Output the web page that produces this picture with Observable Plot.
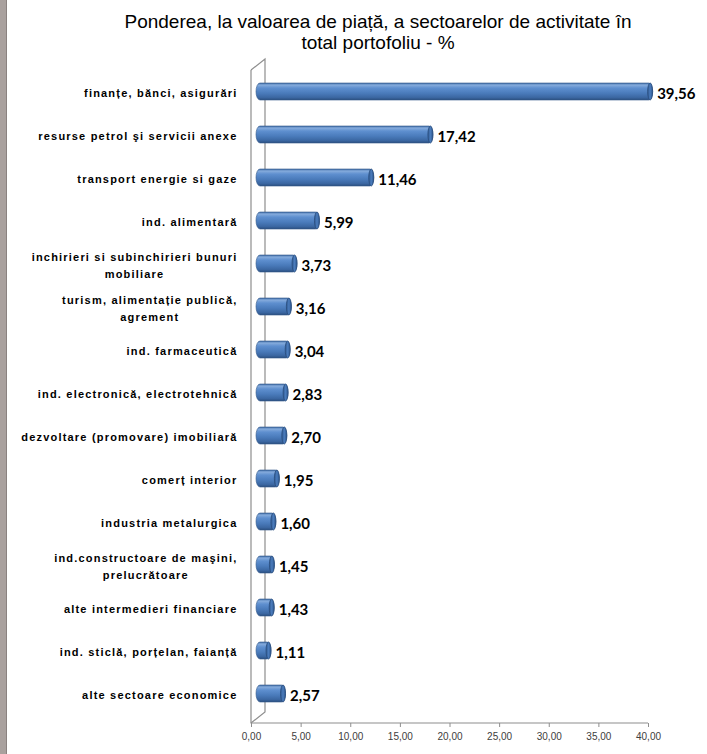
<!DOCTYPE html>
<html><head><meta charset="utf-8">
<script src="https://cdn.jsdelivr.net/npm/d3@7"></script>
<script src="https://cdn.jsdelivr.net/npm/@observablehq/plot@0.6"></script>
<style>
html,body{margin:0;padding:0;background:#fff;}
#page{position:relative;width:707px;height:754px;overflow:hidden;background:#fff;}
#strip{position:absolute;left:0;top:0;width:6px;height:754px;background:#a9a19e;border-right:1px solid #8a8280;}
#title{position:absolute;left:0;top:0;width:707px;height:54px;box-sizing:border-box;padding-top:11px;padding-left:49px;text-align:center;font:19px "Liberation Sans",Arial,sans-serif;line-height:21px;color:#000;}
#chart{position:absolute;left:8px;top:54px;}
</style>
</head><body>
<div id="page">
  <div id="strip"></div>
  <div id="title">Ponderea, la valoarea de piață, a sectoarelor de activitate în<br>total portofoliu - %</div>
  <div id="chart"></div>
</div>
<script>
const categories = [
  "finanțe, bănci, asigurări",
  "resurse petrol şi servicii anexe",
  "transport energie si gaze",
  "ind. alimentară",
  "inchirieri si subinchirieri bunuri\nmobiliare",
  "turism, alimentație publică,\nagrement",
  "ind. farmaceutică",
  "ind. electronică, electrotehnică",
  "dezvoltare (promovare) imobiliară",
  "comerț interior",
  "industria metalurgica",
  "ind.constructoare de maşini,\nprelucrătoare",
  "alte intermedieri financiare",
  "ind. sticlă, porțelan, faianță",
  "alte sectoare economice"
];
const values = [39.56, 17.42, 11.46, 5.99, 3.73, 3.16, 3.04, 2.83, 2.70, 1.95, 1.60, 1.45, 1.43, 1.11, 2.57];
const xTicks = [0, 5, 10, 15, 20, 25, 30, 35, 40];

const data = categories.map((c, i) => ({cat: c, v: values[i]}));
const fmt = d => d.toFixed(2).replace(".", ",");

function wall() {
  const args = [...arguments];
  const sc = args.find(a => a && typeof a.x === "function");
  const dims = args.find(a => a && a.marginTop !== undefined && a.width !== undefined);
  const x0 = sc.x(0), x40 = sc.x(40);
  const top = dims.marginTop, bottom = dims.height - dims.marginBottom;
  const g = d3.create("svg:g").attr("fill", "none").attr("stroke", "#8e8e8e").attr("stroke-width", 1.2);
  g.append("path").attr("d", `M${x0},${top + 8}L${x0},${bottom}L${x40},${bottom}`);
  g.append("path").attr("d", `M${x0},${top + 8}L${x0 + 14},${top - 3}L${x0 + 14},${bottom - 11}L${x0},${bottom}`);
  return g.node();
}

const chart = Plot.plot({
  width: 699,
  height: 700,
  marginLeft: 243,
  marginRight: 59,
  marginTop: 8,
  marginBottom: 31,
  style: {background: "#fff", overflow: "visible"},
  x: {domain: [0, 40]},
  y: {type: "band", domain: categories, paddingInner: 0.609, paddingOuter: 0.402},
  marks: [
    wall,
    Plot.axisX({ticks: xTicks, tickFormat: fmt, tickSize: 4, tickPadding: 5, stroke: "#8e8e8e", fill: "#404040",
      fontSize: 10, fontFamily: "Liberation Sans, Arial, sans-serif", label: null}),
    Plot.axisY({tickSize: 0, tickPadding: 14, fill: "#000", fontSize: 11, fontWeight: "bold",
      fontFamily: "Liberation Sans, Arial, sans-serif", lineHeight: 1.5, label: null, textAnchor: "end"}),
    Plot.barX(data, {x1: 0, x2: "v", y: "cat", dx: 5, insetRight: -4, rx: 4, ry: 8.5,
      fill: "url(#cyl)", stroke: "#34598a", strokeWidth: 0.6}),
    Plot.barX(data, {x1: "v", x2: "v", y: "cat", dx: 5, insetLeft: -1, insetRight: -4, rx: 2.5, ry: 8.5,
      fill: "url(#cap)", stroke: "#2a4d7c", strokeWidth: 0.8}),
    Plot.text(data, {x: "v", y: "cat", text: d => fmt(d.v), dx: 13, dy: 2, textAnchor: "start",
      fontWeight: "bold", fontSize: 15, fontFamily: "Lato, Open Sans, sans-serif", fill: "#000"})
  ]
});

const svg = d3.select(chart);
const defs = svg.insert("defs", ":first-child");
const g1 = defs.append("linearGradient").attr("id", "cyl").attr("x1", 0).attr("y1", 0).attr("x2", 0).attr("y2", 1);
[[0, "#3d6ba6"], [0.12, "#85abdc"], [0.3, "#5e8fcf"], [0.6, "#4a7bbb"], [0.85, "#3b67a2"], [1, "#2b4f80"]]
  .forEach(([o, c]) => g1.append("stop").attr("offset", o).attr("stop-color", c));
const g2 = defs.append("linearGradient").attr("id", "cap").attr("x1", 0).attr("y1", 0).attr("x2", 1).attr("y2", 0);
[[0, "#2e5890"], [0.5, "#4b7cbc"], [1, "#2e5890"]]
  .forEach(([o, c]) => g2.append("stop").attr("offset", o).attr("stop-color", c));

document.getElementById("chart").appendChild(chart);

// letter spacing on category labels and centring of wrapped labels
svg.selectAll('g[aria-label="y-axis tick label"] text').each(function () {
  const t = d3.select(this);
  t.style("letter-spacing", "1.2px");
  const spans = t.selectAll("tspan");
  if (spans.size() > 1) {
    let maxW = 0;
    spans.each(function () { maxW = Math.max(maxW, this.getComputedTextLength()); });
    t.attr("text-anchor", "middle");
    const baseX = +(spans.attr("x") || 0);
    spans.attr("x", baseX - maxW / 2);
  }
});
</script>
</body></html>
